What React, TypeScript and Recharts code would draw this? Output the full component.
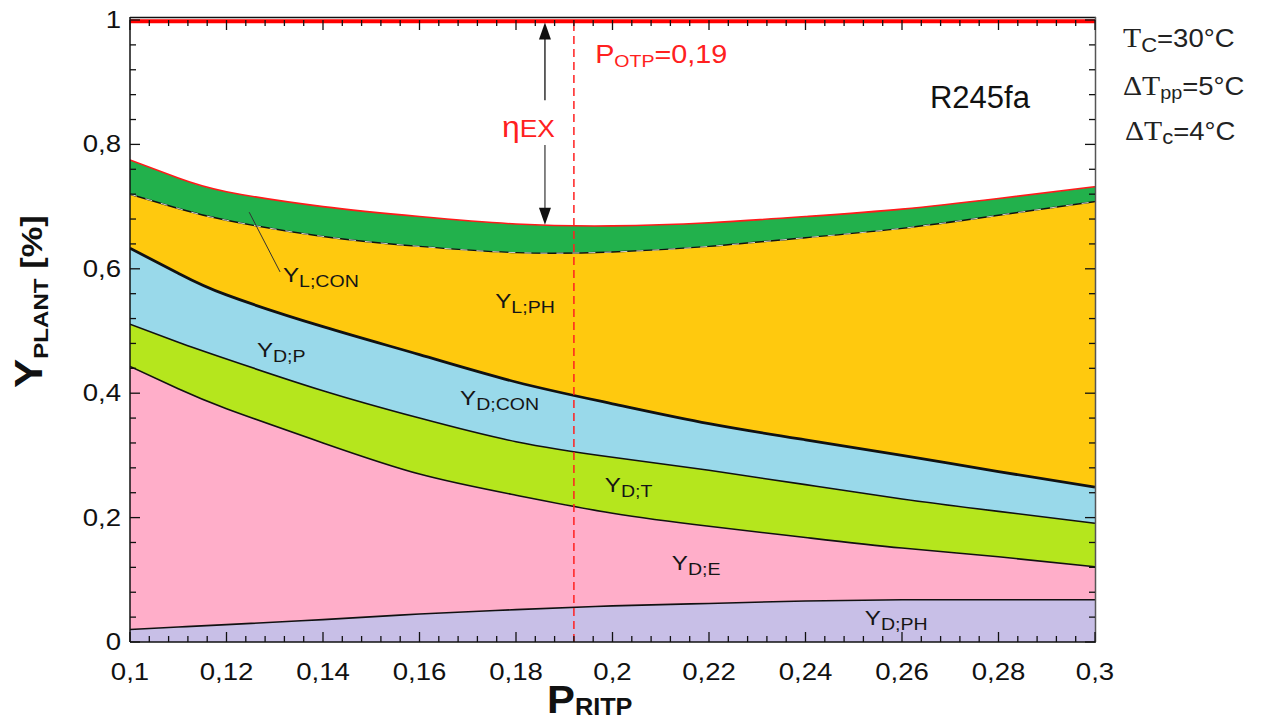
import { ComposedChart, Area, Line, XAxis, YAxis, ReferenceLine, ReferenceDot } from 'recharts';

// reduced turbine inlet pressure
const P_RITP = [0.1, 0.11, 0.12, 0.14, 0.16, 0.18, 0.2, 0.22, 0.24, 0.26, 0.28, 0.3];

// cumulative boundaries, bottom to top
const Y_D_PH = [0.020, 0.024, 0.028, 0.036, 0.045, 0.052, 0.058, 0.062, 0.066, 0.068, 0.068, 0.068];
const Y_D_E = [0.443, 0.407, 0.375, 0.320, 0.270, 0.236, 0.207, 0.186, 0.168, 0.151, 0.137, 0.121];
const Y_D_T = [0.511, 0.482, 0.455, 0.404, 0.360, 0.322, 0.297, 0.276, 0.253, 0.230, 0.210, 0.191];
const Y_D_CON = [0.633, 0.593, 0.558, 0.507, 0.462, 0.418, 0.383, 0.351, 0.325, 0.300, 0.274, 0.249];
const Y_L_PH = [0.720, 0.697, 0.678, 0.652, 0.636, 0.626, 0.627, 0.636, 0.650, 0.665, 0.686, 0.708];
const Y_L_CON = [0.775, 0.746, 0.724, 0.700, 0.684, 0.672, 0.669, 0.674, 0.684, 0.696, 0.713, 0.732];

const X_MAJOR = [0.1, 0.12, 0.14, 0.16, 0.18, 0.2, 0.22, 0.24, 0.26, 0.28, 0.3];
const X_LABELS = ['0,1', '0,12', '0,14', '0,16', '0,18', '0,2', '0,22', '0,24', '0,26', '0,28', '0,3'];
const Y_MAJOR = [0, 0.2, 0.4, 0.6, 0.8, 1];
const Y_LABELS = ['0', '0,2', '0,4', '0,6', '0,8', '1'];
const P_OTP = 0.192;

const FONT = 'Liberation Sans, Arial, sans-serif';
const SERIF = 'Liberation Serif, Times New Roman, serif';

// plot box (matches chart margins + axis sizes below)
const PLOT = { left: 130, top: 20, right: 1095, bottom: 642 };

const withMinor = (major: number[], n: number) => {
    const out: number[] = [];
    for (let i = 0; i < major.length - 1; i++) {
        for (let k = 0; k < n; k++) {
            out.push(Math.round((major[i] + ((major[i + 1] - major[i]) * k) / n) * 1e6) / 1e6);
        }
    }
    out.push(major[major.length - 1]);
    return out;
};
const X_TICKS = withMinor(X_MAJOR, 5);
const Y_TICKS = withMinor(Y_MAJOR, 5);

const majorIndex = (v: number, majors: number[]) => majors.findIndex(m => Math.abs(m - v) < 1e-6);
const sx = (v: number) => PLOT.left + ((v - 0.1) / 0.2) * (PLOT.right - PLOT.left);
const sy = (v: number) => PLOT.bottom - v * (PLOT.bottom - PLOT.top);

const data = P_RITP.map((p, i) => ({
    p,
    bandDPh: [0, Y_D_PH[i]],
    bandDE: [Y_D_PH[i], Y_D_E[i]],
    bandDT: [Y_D_E[i], Y_D_T[i]],
    bandDCon: [Y_D_T[i], Y_D_CON[i]],
    bandLPh: [Y_D_CON[i], Y_L_PH[i]],
    bandLCon: [Y_L_PH[i], Y_L_CON[i]],
    dPh: Y_D_PH[i],
    dE: Y_D_E[i],
    dT: Y_D_T[i],
    dCon: Y_D_CON[i],
    lPh: Y_L_PH[i],
    lCon: Y_L_CON[i],
}));

const BottomTick = (props: any) => {
    const { x, y, payload } = props;
    const idx = majorIndex(payload.value, X_MAJOR);
    if (idx < 0) return <g />;
    return (
        <text transform={`translate(${x},${y + 38}) scale(1.2,1)`} textAnchor="middle" fontSize={23} fontFamily={FONT} fill="#111">
            {X_LABELS[idx]}
        </text>
    );
};

const LeftTick = (props: any) => {
    const { x, y, payload } = props;
    const idx = majorIndex(payload.value, Y_MAJOR);
    if (idx < 0) return <g />;
    return (
        <text transform={`translate(${x - 9},${y + 8}) scale(1.2,1)`} textAnchor="end" fontSize={23} fontFamily={FONT} fill="#111">
            {Y_LABELS[idx]}
        </text>
    );
};

const subLabel = (main: string, sub: string) => (props: any) => {
    const { cx, cy } = props;
    return (
        <text transform={`translate(${cx},${cy}) scale(1.15,1)`} fontFamily={FONT} fill="#151515">
            <tspan fontSize={21}>{main}</tspan>
            <tspan fontSize={17} dy={5}>{sub}</tspan>
        </text>
    );
};

const otpLabel = (props: any) => (
    <text transform={`translate(${props.cx},${props.cy}) scale(1.15,1)`} fontFamily={FONT} fill="#ff2020">
        <tspan fontSize={25}>P</tspan>
        <tspan fontSize={17} dy={4}>OTP</tspan>
        <tspan fontSize={25} dy={-4}>=0,19</tspan>
    </text>
);

const etaLabel = (props: any) => (
    <text transform={`translate(${props.cx},${props.cy}) scale(1.1,1)`} fontFamily={FONT} fill="#ff2020">
        <tspan fontSize={29}>η</tspan>
        <tspan fontSize={24}>EX</tspan>
    </text>
);

const fluidLabel = (props: any) => (
    <text x={props.cx} y={props.cy} fontFamily={FONT} fontSize={31} fill="#111">R245fa</text>
);

const arrowUp = (props: any) => (
    <path d={`M${props.cx},${props.cy} l-6,17 l12,0 z`} fill="#111" />
);
const arrowDown = (props: any) => (
    <path d={`M${props.cx},${props.cy} l-6,-17 l12,0 z`} fill="#111" />
);

export default function App() {
    return (
        <div style={{ position: 'absolute', left: 0, top: 0, width: 1264, height: 726, background: '#fff' }}>
            <ComposedChart width={1264} height={726} data={data} margin={{ top: 20, right: 169, bottom: 0, left: 0 }}>
                <XAxis dataKey="p" type="number" domain={[0.1, 0.3]} ticks={X_TICKS} interval={0} height={84}
                    tickSize={0} tickMargin={0} tick={BottomTick} axisLine={false} allowDataOverflow />
                <YAxis type="number" domain={[0, 1]} ticks={Y_TICKS} interval={0} width={130}
                    tickSize={0} tickMargin={0} tick={LeftTick} axisLine={false} allowDataOverflow />

                <Area dataKey="bandDPh" type="natural" fill="#c8bfe7" fillOpacity={1} stroke="none" isAnimationActive={false} />
                <Area dataKey="bandDE" type="natural" fill="#ffaec9" fillOpacity={1} stroke="none" isAnimationActive={false} />
                <Area dataKey="bandDT" type="natural" fill="#b5e61d" fillOpacity={1} stroke="none" isAnimationActive={false} />
                <Area dataKey="bandDCon" type="natural" fill="#99d9ea" fillOpacity={1} stroke="none" isAnimationActive={false} />
                <Area dataKey="bandLPh" type="natural" fill="#ffc90e" fillOpacity={1} stroke="none" isAnimationActive={false} />
                <Area dataKey="bandLCon" type="natural" fill="#22b14c" fillOpacity={1} stroke="none" isAnimationActive={false} />

                <Line dataKey="dPh" type="natural" stroke="#111" strokeWidth={1.6} dot={false} isAnimationActive={false} />
                <Line dataKey="dE" type="natural" stroke="#111" strokeWidth={1.6} dot={false} isAnimationActive={false} />
                <Line dataKey="dT" type="natural" stroke="#111" strokeWidth={1.6} dot={false} isAnimationActive={false} />
                <Line dataKey="dCon" type="natural" stroke="#111" strokeWidth={2.8} dot={false} isAnimationActive={false} />
                <Line dataKey="lPh" type="natural" stroke="#111" strokeWidth={1.4} dot={false} isAnimationActive={false} />
                <Line dataKey="lPh" type="natural" stroke="#fff" strokeWidth={0.8} strokeDasharray="7 9" dot={false} isAnimationActive={false} />
                <Line dataKey="lCon" type="natural" stroke="#ff1a1a" strokeWidth={1.6} dot={false} isAnimationActive={false} />

                <ReferenceLine y={0.998} stroke="#ff0000" strokeWidth={4} />
                <ReferenceLine x={P_OTP} stroke="#ff2020" strokeWidth={1.5} strokeDasharray="8 5" />

                <ReferenceLine segment={[{ x: 0.186, y: 0.99 }, { x: 0.186, y: 0.871 }]} stroke="#111" strokeWidth={1.3} />
                <ReferenceLine segment={[{ x: 0.186, y: 0.799 }, { x: 0.186, y: 0.69 }]} stroke="#444" strokeWidth={1.3} />
                <ReferenceDot x={0.186} y={0.996} shape={arrowUp} />
                <ReferenceDot x={0.186} y={0.671} shape={arrowDown} />
                <ReferenceLine segment={[{ x: 0.1247, y: 0.691 }, { x: 0.1311, y: 0.595 }]} stroke="#333" strokeWidth={1} />

                <ReferenceDot x={0.1317} y={0.579} shape={subLabel('Y', 'L;CON')} />
                <ReferenceDot x={0.1757} y={0.537} shape={subLabel('Y', 'L;PH')} />
                <ReferenceDot x={0.1263} y={0.458} shape={subLabel('Y', 'D;P')} />
                <ReferenceDot x={0.1684} y={0.381} shape={subLabel('Y', 'D;CON')} />
                <ReferenceDot x={0.1984} y={0.241} shape={subLabel('Y', 'D;T')} />
                <ReferenceDot x={0.2123} y={0.116} shape={subLabel('Y', 'D;E')} />
                <ReferenceDot x={0.2523} y={0.027} shape={subLabel('Y', 'D;PH')} />
                <ReferenceDot x={0.1964} y={0.931} shape={otpLabel} />
                <ReferenceDot x={0.1771} y={0.812} shape={etaLabel} />
                <ReferenceDot x={0.2658} y={0.8585} shape={fluidLabel} />
            </ComposedChart>

            <svg width={1264} height={726} style={{ position: 'absolute', left: 0, top: 0, pointerEvents: 'none' }}>
                {/* frame */}
                <line x1={PLOT.left} x2={PLOT.right + 1} y1={17.5} y2={17.5} stroke="#111" strokeWidth={1.5} />
                <line x1={PLOT.left} x2={PLOT.right + 1} y1={PLOT.bottom} y2={PLOT.bottom} stroke="#111" strokeWidth={1.5} />
                <line x1={PLOT.left} x2={PLOT.left} y1={17} y2={PLOT.bottom} stroke="#111" strokeWidth={1.5} />
                <line x1={PLOT.right + 0.5} x2={PLOT.right + 0.5} y1={17} y2={PLOT.bottom} stroke="#555" strokeWidth={1.5} />

                {/* inward ticks on four sides */}
                {X_TICKS.map(t => {
                    const len = majorIndex(t, X_MAJOR) >= 0 ? 10 : 6;
                    return (
                        <g key={`x${t}`}>
                            <line x1={sx(t)} x2={sx(t)} y1={PLOT.bottom} y2={PLOT.bottom - len} stroke="#111" strokeWidth={1.3} />
                            <line x1={sx(t)} x2={sx(t)} y1={PLOT.top} y2={PLOT.top + len} stroke="#111" strokeWidth={1.3} />
                        </g>
                    );
                })}
                {Y_TICKS.map(t => {
                    const len = majorIndex(t, Y_MAJOR) >= 0 ? 10 : 6;
                    return (
                        <g key={`y${t}`}>
                            <line x1={PLOT.left} x2={PLOT.left + len} y1={sy(t)} y2={sy(t)} stroke="#111" strokeWidth={1.3} />
                            <line x1={PLOT.right} x2={PLOT.right - len} y1={sy(t)} y2={sy(t)} stroke="#111" strokeWidth={1.3} />
                        </g>
                    );
                })}

                <text transform="translate(547,713) scale(1.1,1)" fontFamily={FONT} fontWeight="bold" fill="#111">
                    <tspan fontSize={38}>P</tspan>
                    <tspan fontSize={23} dy={2}>RITP</tspan>
                </text>
                <text transform="translate(42,388) rotate(-90) scale(1.15,1)" fontFamily={FONT} fontWeight="bold" fill="#111">
                    <tspan fontSize={38}>Y</tspan>
                    <tspan fontSize={21} dy={6}>PLANT</tspan>
                    <tspan fontSize={30} dy={-6}> [%]</tspan>
                </text>

                <text transform="translate(1123,47) scale(1.1,1)" fontFamily={FONT} fill="#222">
                    <tspan fontFamily={SERIF} fontSize={27}>T</tspan>
                    <tspan fontSize={20} dy={5}>C</tspan>
                    <tspan fontSize={25} dy={-5}>=30°C</tspan>
                </text>
                <text transform="translate(1123,95) scale(1.1,1)" fontFamily={FONT} fill="#222">
                    <tspan fontFamily={SERIF} fontSize={27}>ΔT</tspan>
                    <tspan fontSize={18} dy={4}>pp</tspan>
                    <tspan fontSize={25} dy={-4}>=5°C</tspan>
                </text>
                <text transform="translate(1125,140) scale(1.1,1)" fontFamily={FONT} fill="#222">
                    <tspan fontFamily={SERIF} fontSize={27}>ΔT</tspan>
                    <tspan fontSize={20} dy={4}>c</tspan>
                    <tspan fontSize={25} dy={-4}>=4°C</tspan>
                </text>
            </svg>
        </div>
    );
}
